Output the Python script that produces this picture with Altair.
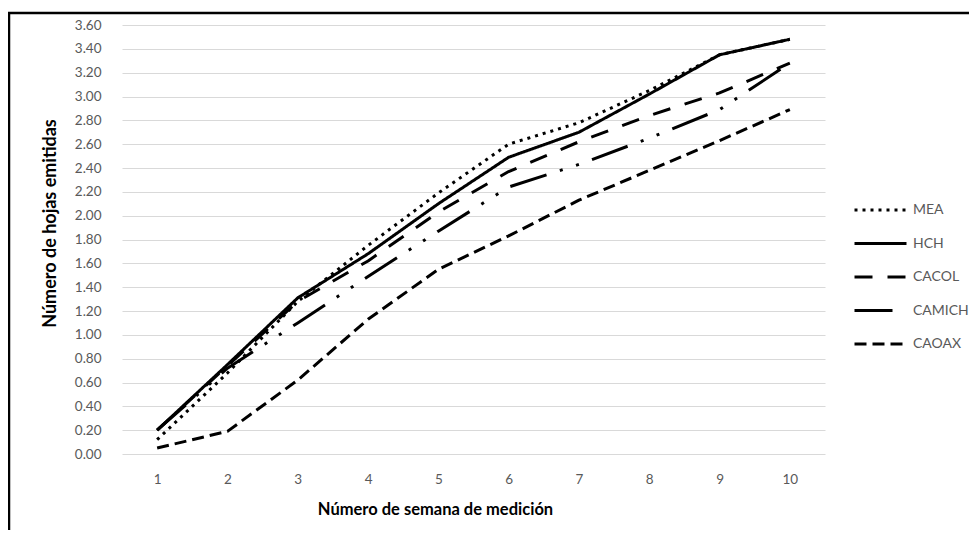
import altair as alt
import pandas as pd

weeks = [1, 2, 3, 4, 5, 6, 7, 8, 9, 10]
series = ["MEA", "HCH", "CACOL", "CAMICH", "CAOAX"]
mea = [0.12, 0.68, 1.28, 1.75, 2.19, 2.60, 2.78, 3.05, 3.35, 3.48]
hch = [0.20, 0.75, 1.31, 1.68, 2.10, 2.49, 2.70, 3.02, 3.35, 3.48]
cacol = [0.20, 0.74, 1.28, 1.62, 2.03, 2.37, 2.62, 2.84, 3.03, 3.28]
camich = [0.20, 0.72, 1.10, 1.49, 1.87, 2.24, 2.43, 2.65, 2.89, 3.28]
caoax = [0.05, 0.19, 0.62, 1.13, 1.55, 1.83, 2.13, 2.38, 2.63, 2.89]
y_ticks = [0.0, 0.2, 0.4, 0.6, 0.8, 1.0, 1.2, 1.4, 1.6, 1.8, 2.0,
           2.2, 2.4, 2.6, 2.8, 3.0, 3.2, 3.4, 3.6]

rows = []
for name, vals in zip(series, [mea, hch, cacol, camich, caoax]):
    for w, v in zip(weeks, vals):
        rows.append({"week": w, "value": v, "series": name})
df = pd.DataFrame(rows)

dash_styles = [[3, 5], [1, 0], [18, 15], [38, 14, 3, 14, 3, 14], [12, 6]]
FONT = "Lato"

lines = alt.Chart(df).mark_line(color="black", strokeWidth=3, strokeJoin="round").encode(
    x=alt.X("week:O", scale=alt.Scale(type="point", padding=0.5),
            axis=alt.Axis(title="Número de semana de medición", labelAngle=0, grid=False,
                          domain=False, ticks=False, tickSize=0, labelPadding=18,
                          labelFont=FONT, labelFontSize=13.5, labelColor="#595959",
                          titleFont=FONT, titleFontSize=16.5, titleFontWeight="bold",
                          titleColor="#000000", titleX=313, titleY=47)),
    y=alt.Y("value:Q", scale=alt.Scale(domain=[0, 3.6], nice=False, zero=True),
            axis=alt.Axis(title="Número de hojas emitidas", values=y_ticks, format=".2f",
                          grid=True, gridColor="#d9d9d9", gridWidth=1, domain=False,
                          ticks=False, tickSize=0, labelPadding=21,
                          labelFont=FONT, labelFontSize=13.5, labelColor="#595959",
                          titleFont=FONT, titleFontSize=18, titleFontWeight="bold",
                          titleColor="#000000", titleX=-63, titleY=198)),
    strokeDash=alt.StrokeDash("series:N",
                              scale=alt.Scale(domain=series, range=dash_styles),
                              legend=alt.Legend(title=None, orient="none", legendX=731, legendY=175,
                                                symbolType="stroke", symbolSize=2704,
                                                symbolStrokeWidth=3, symbolStrokeColor="black",
                                                clipHeight=20, rowPadding=13.5,
                                                labelFont=FONT, labelFontSize=14,
                                                labelColor="#595959", labelOffset=5, padding=0)),
)

frame = alt.Chart(pd.DataFrame({"f": [0]})).mark_rect(
    fill="transparent", stroke="black", strokeWidth=2.5
).encode(x=alt.value(-113), x2=alt.value(900), y=alt.value(-12), y2=alt.value(600))

chart = alt.layer(frame, lines).properties(
    width=703, height=429,
    padding={"left": 114, "top": 17, "right": 144, "bottom": 76},
    autosize=alt.AutoSizeParams(type="none"),
).configure_view(strokeWidth=0)

chart.save("out.html", embed_options={"renderer": "svg", "actions": False})
